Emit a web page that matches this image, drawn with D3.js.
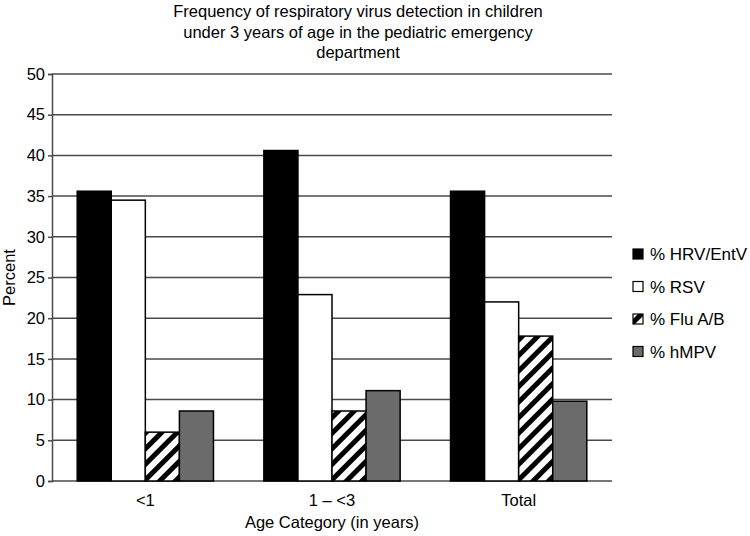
<!DOCTYPE html>
<html>
<head>
<meta charset="utf-8">
<script src="https://cdn.jsdelivr.net/npm/d3@7"></script>
<style>
  html, body { margin: 0; padding: 0; background: #fff; }
  svg { display: block; font-family: "Liberation Sans", Arial, sans-serif; }
</style>
</head>
<body>
<svg id="chart" width="750" height="536"></svg>
<script>
const categories = ["<1", "1 \u2013 <3", "Total"];
const seriesNames = ["% HRV/EntV", "% RSV", "% Flu A/B", "% hMPV"];
const hrv  = [35.6, 40.6, 35.6];
const rsv  = [34.5, 22.9, 22.0];
const flu  = [6.0, 8.6, 17.8];
const hmpv = [8.6, 11.1, 9.8];
const yTicks = [0, 5, 10, 15, 20, 25, 30, 35, 40, 45, 50];
const titleLines = ["Frequency of respiratory virus detection in children",
                    "under 3 years of age in the pediatric emergency",
                    "department"];

const seriesValues = [hrv, rsv, flu, hmpv];
const fills = ["#000000", "#ffffff", "url(#hatch)", "#6b6b6b"];

const svg = d3.select("#chart");
const m = { left: 52, right: 612, top: 74, bottom: 481 };

const defs = svg.append("defs");
const pat = defs.append("pattern")
  .attr("id", "hatch").attr("patternUnits", "userSpaceOnUse")
  .attr("width", 11).attr("height", 11)
  .attr("patternTransform", "rotate(45)");
pat.append("rect").attr("width", 11).attr("height", 11).attr("fill", "#fff");
pat.append("rect").attr("x", 0).attr("y", 0).attr("width", 5).attr("height", 11).attr("fill", "#000");

const x0 = d3.scaleBand().domain(categories).range([m.left, m.right]).paddingInner(0.27).paddingOuter(0.135);
const x1 = d3.scaleBand().domain(seriesNames).range([0, x0.bandwidth()]).padding(0);
const y = d3.scaleLinear().domain([0, 50]).range([m.bottom, m.top]);

// gridlines
svg.append("g").selectAll("line").data(yTicks).join("line")
  .attr("x1", m.left).attr("x2", m.right)
  .attr("y1", d => y(d)).attr("y2", d => y(d))
  .attr("stroke", "#4a4a4a").attr("stroke-width", 1.5);

// y axis
const yAxis = svg.append("g").attr("transform", `translate(${m.left},0)`)
  .call(d3.axisLeft(y).tickValues(yTicks).tickSize(4).tickPadding(3));
yAxis.select(".domain").attr("stroke", "#4a4a4a").attr("stroke-width", 1.5);
yAxis.selectAll(".tick line").attr("stroke", "#4a4a4a").attr("stroke-width", 1.5);
yAxis.selectAll("text").attr("font-size", 16.5).attr("fill", "#000")
  .attr("font-family", "Liberation Sans, Arial, sans-serif");

// bars
const groups = svg.append("g").selectAll("g").data(categories).join("g")
  .attr("transform", d => `translate(${x0(d)},0)`);
groups.selectAll("rect").data((c, ci) => seriesNames.map((s, si) => ({ s, si, v: seriesValues[si][ci] })))
  .join("rect")
  .attr("x", d => x1(d.s))
  .attr("width", x1.bandwidth())
  .attr("y", d => y(d.v))
  .attr("height", d => y(0) - y(d.v))
  .attr("fill", d => fills[d.si])
  .attr("stroke", "#000").attr("stroke-width", 1.5);

// x axis labels
const xAxis = svg.append("g").attr("transform", `translate(0,${m.bottom})`)
  .call(d3.axisBottom(x0).tickSize(0).tickPadding(13));
xAxis.select(".domain").remove();
xAxis.selectAll("text").attr("font-size", 16.5).attr("fill", "#000")
  .attr("font-family", "Liberation Sans, Arial, sans-serif");

// axis titles
svg.append("text").attr("x", (m.left + m.right) / 2).attr("y", 528)
  .attr("text-anchor", "middle").attr("font-size", 16.5).text("Age Category (in years)");
svg.append("text").attr("transform", `translate(15,${(m.top + m.bottom) / 2}) rotate(-90)`)
  .attr("text-anchor", "middle").attr("font-size", 16.5).text("Percent");

// title
svg.append("g").selectAll("text").data(titleLines).join("text")
  .attr("x", 358).attr("y", (d, i) => 17 + i * 20.5)
  .attr("text-anchor", "middle").attr("font-size", 16.5).text(d => d);

// legend
const leg = svg.append("g").selectAll("g").data(seriesNames).join("g")
  .attr("transform", (d, i) => `translate(633,${254 + i * 32.5})`);
leg.append("rect").attr("x", 0).attr("y", -5).attr("width", 10).attr("height", 10)
  .attr("fill", (d, i) => fills[i]).attr("stroke", "#000").attr("stroke-width", 1.2);
leg.append("text").attr("x", 17).attr("y", 6).attr("font-size", 17).text(d => d);
</script>
</body>
</html>
